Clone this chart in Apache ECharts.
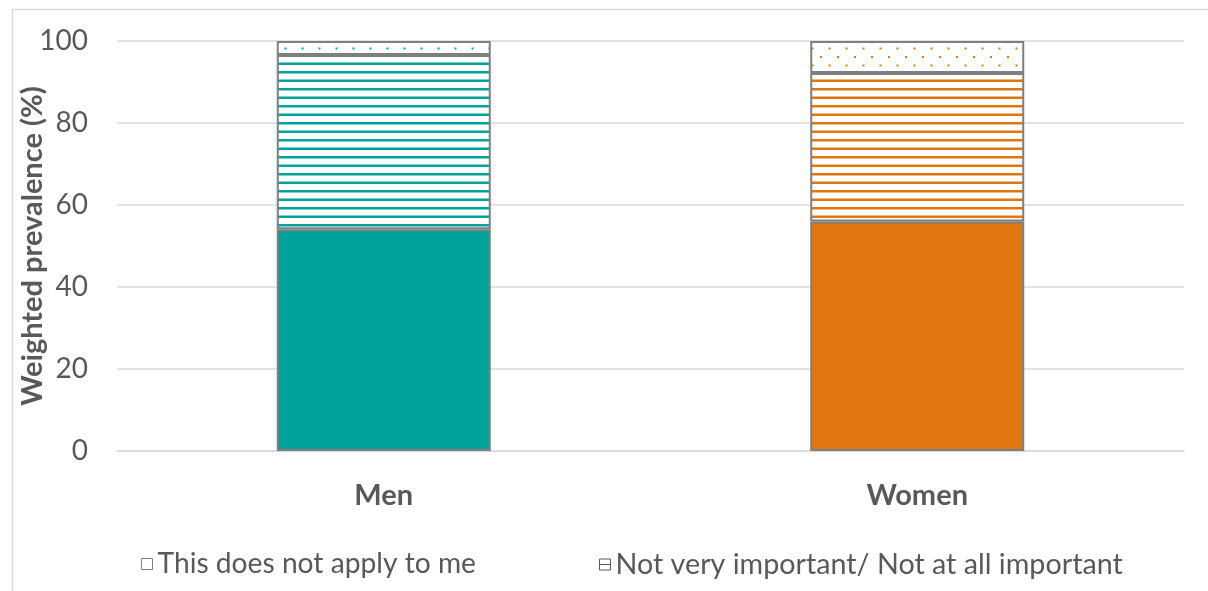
<!DOCTYPE html>
<html>
<head>
<meta charset="utf-8">
<script src="https://cdn.jsdelivr.net/npm/echarts@6/dist/echarts.min.js"></script>
<style>
html,body{margin:0;padding:0;background:#fff;}
#chart{width:1208px;height:591px;}
</style>
</head>
<body>
<div id="chart"></div>
<script>
// ---- data ----
const categories = ['Men', 'Women'];
const importantValues = [54.1, 56.0];        // solid segment
const notImportantValues = [42.5, 36.2];     // horizontal-line segment
const notApplyValues = [3.4, 7.8];           // dotted segment
const yTicks = [0, 20, 40, 60, 80, 100];
const seriesNames = ['Very/Quite important', 'Not very important/ Not at all important', 'This does not apply to me'];
const barColors = ['#00A39C', '#E0760E'];

// ---- patterns ----
function linePattern(color) {
  const c = document.createElement('canvas');
  c.width = 16; c.height = 17;
  const g = c.getContext('2d');
  g.fillStyle = '#ffffff'; g.fillRect(0, 0, 16, 17);
  g.fillStyle = color;
  g.fillRect(0, 3, 16, 2.5);
  g.fillRect(0, 11.5, 16, 2.5);
  return { image: c, repeat: 'repeat' };
}
function dotPattern(color) {
  const c = document.createElement('canvas');
  c.width = 17; c.height = 17;
  const g = c.getContext('2d');
  g.fillStyle = '#ffffff'; g.fillRect(0, 0, 17, 17);
  g.fillStyle = color;
  g.fillRect(4, 5, 2, 2);
  g.fillRect(12.5, 13.5, 2, 2);
  return { image: c, repeat: 'repeat' };
}

const border = { borderColor: '#7F7F7F', borderWidth: 2 };
function seg(values, colorFn) {
  return values.map((v, i) => ({ value: v, itemStyle: Object.assign({ color: colorFn(barColors[i]) }, border) }));
}

const chart = echarts.init(document.getElementById('chart'), null, { renderer: 'canvas' });
const font = 'Lato, "Open Sans", sans-serif';

chart.setOption({
  animation: false,
  textStyle: { fontFamily: font },
  grid: { left: 117, right: 24, top: 41, bottom: 140, containLabel: false, outerBoundsMode: 'none' },
  graphic: [{
    type: 'rect', left: 10, top: 7, silent: true,
    shape: { width: 1400, height: 800 },
    style: { fill: 'none', stroke: '#D9D9D9', lineWidth: 1.5 }
  }],
  legend: [{
    left: 136, top: 545, itemWidth: 11, itemHeight: 11, itemGap: 5,
    textStyle: { fontSize: 28.2, color: '#595959', fontFamily: font },
    data: [{ name: seriesNames[2], icon: 'rect', itemStyle: { color: '#fff', borderColor: '#7F7F7F', borderWidth: 1 } }]
  }, {
    left: 594, top: 545, itemWidth: 11, itemHeight: 11, itemGap: 5,
    textStyle: { fontSize: 28.7, color: '#595959', fontFamily: font },
    data: [{ name: seriesNames[1], icon: 'path://M0,0H10V10H0ZM0,5H10', itemStyle: { color: '#fff', borderColor: '#595959', borderWidth: 1 } }]
  }],
  xAxis: {
    type: 'category', data: categories,
    axisLine: { show: true, lineStyle: { color: '#D9D9D9', width: 1.5 } },
    axisTick: { show: false },
    axisLabel: { margin: 30, fontSize: 29, fontWeight: 'bold', color: '#595959', fontFamily: font }
  },
  yAxis: {
    type: 'value', min: 0, max: 100, interval: 20,
    name: 'Weighted prevalence (%)', nameLocation: 'middle', nameGap: 70, nameRotate: 90,
    nameMoveOverlap: false,
    nameTextStyle: { fontSize: 29, fontWeight: 'bold', color: '#595959', fontFamily: font },
    axisLine: { show: false }, axisTick: { show: false },
    splitLine: { lineStyle: { color: '#D9D9D9', width: 1.5 } },
    axisLabel: { margin: 29, fontSize: 28, color: '#595959', fontFamily: font,
      formatter: v => yTicks.includes(v) ? String(v) : '' }
  },
  series: [
    { name: seriesNames[0], type: 'bar', stack: 'a', barWidth: 214, data: seg(importantValues, c => c) },
    { name: seriesNames[1], type: 'bar', stack: 'a', barWidth: 214, data: seg(notImportantValues, linePattern) },
    { name: seriesNames[2], type: 'bar', stack: 'a', barWidth: 214, data: seg(notApplyValues, dotPattern) }
  ]
});
</script>
</body>
</html>
